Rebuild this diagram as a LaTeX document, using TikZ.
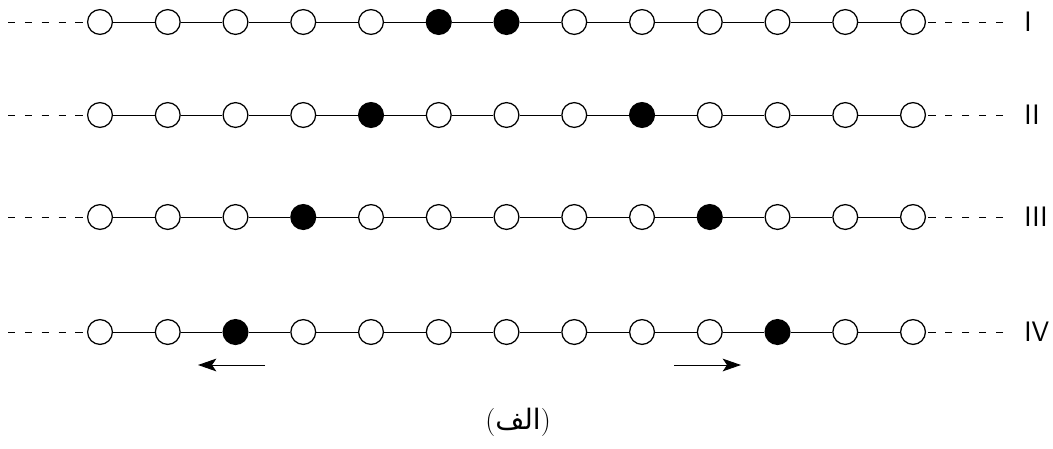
\documentclass[tikz,border=0pt]{standalone}
\usepackage{fontspec}
\newfontfamily\arabicfont[Script=Arabic]{DejaVu Sans}
\TeXXeTstate=1
\usetikzlibrary{%
	arrows.meta,%
	positioning,%
}
\tikzset{
	>={Stealth[length=13pt, width=9pt, inset=3pt]},
	nodes={align=center},
}

\begin{document}
\begin{tikzpicture}[x=0.025cm, y=-0.025cm,%
		site/.style={draw, circle, line width=0.9pt, minimum size=0.62cm, inner sep=0pt, fill=white},%
		full/.style={site, fill=black},%
		bond/.style={line width=0.7pt},%
		tail/.style={line width=0.7pt, dash pattern=on 5pt off 7pt},%
		lbl/.style={font=\sffamily\fontsize{20}{24}\selectfont, anchor=west, inner sep=0pt}]
	\useasboundingbox (0,0) rectangle (1053,448);

	\foreach \r/\y/\a/\b/\rn in {1/22/5/6/I, 2/115/4/8/II, 3/217/3/9/III, 4/332/2/10/IV} {
		\foreach \i in {0,...,12} {
			\ifnum\i=\a \def\st{full}\else\ifnum\i=\b \def\st{full}\else\def\st{site}\fi\fi
			\node[\st] (s\r-\i) at ({100+67.75*\i},\y) {};
		}
		\foreach \i [count=\j] in {0,...,11}
			\draw[bond] (s\r-\i) -- (s\r-\j);

		\coordinate (lend\r) at (8,\y);
		\coordinate (rend\r) at (1003,\y);
		\draw[tail] (lend\r) -- (s\r-0);
		\draw[tail] (rend\r) -- (s\r-12);

		\node[lbl] (row\r) at (1024,\y) {\rn};
	}

	\coordinate (ltail) at (265,365);
	\coordinate (lhead) at (198,365);
	\coordinate (rtail) at (674,365);
	\coordinate (rhead) at (741,365);
	\draw[->, bond] (ltail) -- (lhead);
	\draw[->, bond] (rtail) -- (rhead);

	\node[font=\fontsize{20}{24}\selectfont] (caption) at (518,422) {(\hbox{\arabicfont\beginR الف\endR})};
\end{tikzpicture}
\end{document}
